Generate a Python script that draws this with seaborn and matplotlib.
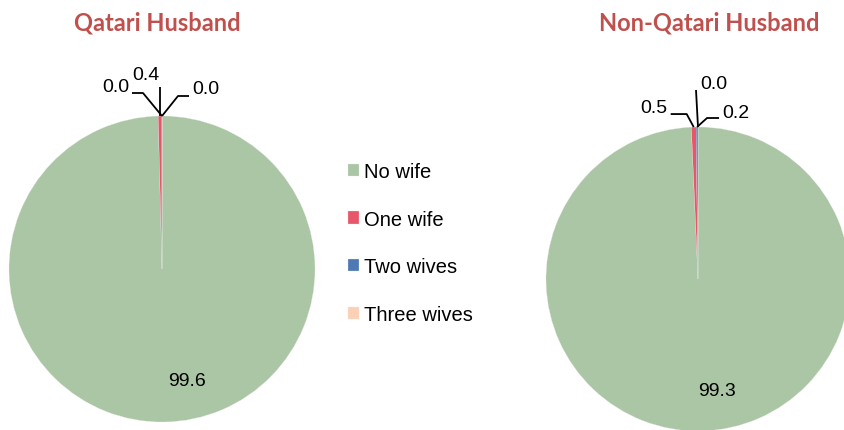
import numpy as np
import matplotlib
matplotlib.use('Agg')
import matplotlib.pyplot as plt
import seaborn as sns

# Data
categories = ['No wife', 'One wife', 'Two wives', 'Three wives']
qatari_values = [99.6, 0.4, 0.0, 0.0]
non_qatari_values = [99.3, 0.5, 0.2, 0.0]
titles = ['Qatari Husband', 'Non-Qatari Husband']

colors = ['#ABC6A5', '#E8566A', '#4E79B4', '#FCD0B4']
title_color = '#C0504D'

sns.set_style('white')
plt.rcParams['font.family'] = ['Liberation Sans', 'DejaVu Sans']
plt.rcParams['text.color'] = 'black'

W, H = 845, 431
fig = plt.figure(figsize = (W / 100, H / 100), dpi = 100)


def px_axes(cx, cy, r):
    # axes square around a pie centred at pixel (cx, cy) with radius r
    return fig.add_axes([(cx - r) / W, (H - cy - r) / H, 2 * r / W, 2 * r / H])


def draw_pie(ax, values, r_px, leaders, inner_offset):
    wedges, _ = ax.pie(values, colors = colors, startangle = 90, counterclock = False,
                       radius = 1, wedgeprops = dict(edgecolor = '#E8E8E8', linewidth = 0.2))
    ax.set_xlim(-1, 1)
    ax.set_ylim(-1, 1)
    ax.set_aspect('equal')
    ax.axis('off')

    # small slices: leader lines from the top of the pie
    for i, (elbow, end, txt, ha) in leaders.items():
        w = wedges[i]
        ang = np.deg2rad((w.theta1 + w.theta2) / 2)
        ax0, ay0 = np.cos(ang), np.sin(ang)
        pts_x = [ax0, ax0 + elbow[0] / r_px, ax0 + end[0] / r_px]
        pts_y = [ay0, ay0 + elbow[1] / r_px, ay0 + end[1] / r_px]
        ax.plot(pts_x, pts_y, color = 'black', lw = 1.3, clip_on = False, solid_capstyle = 'butt')
        ax.text(ax0 + txt[0] / r_px, ay0 + txt[1] / r_px, f'{values[i]:.1f}',
                ha = ha, va = 'center', fontsize = 14, clip_on = False)

    # big slice label
    ax.text(inner_offset[0] / r_px, inner_offset[1] / r_px, f'{values[0]:.1f}',
            ha = 'center', va = 'center', fontsize = 14)
    return wedges


# Left pie: Qatari husband
ax1 = px_axes(162, 270, 153)
wedges = draw_pie(ax1, qatari_values, 153,
                  {2: ((-19, 23), (-30, 23), (-33, 29), 'right'),
                   1: ((0, 29), (0, 29), (-14, 42), 'center'),
                   3: ((16, 20), (27, 20), (30, 27), 'left')},
                  (25, -112))

# Right pie: Non-Qatari husband
ax2 = px_axes(698, 280, 152)
draw_pie(ax2, non_qatari_values, 152,
         {1: ((-7, 13), (-23, 13), (-26, 20), 'right'),
          3: ((-2, 37), (-2, 37), (2, 44), 'left'),
          2: ((10, 9), (22, 9), (25, 15), 'left')},
         (19, -112))

# Titles
fig.text(157 / W, 1 - 23 / H, titles[0], ha = 'center', va = 'center',
         fontsize = 17, fontweight = 'bold', color = title_color, family = 'Lato')
fig.text(709 / W, 1 - 23 / H, titles[1], ha = 'center', va = 'center',
         fontsize = 17, fontweight = 'bold', color = title_color, family = 'Lato')

# Legend
fig.legend(wedges, categories, loc = 'upper left', bbox_to_anchor = (338 / W, 1 - 153 / H),
           frameon = False, fontsize = 14.5, handlelength = 0.55, handleheight = 0.55,
           handletextpad = 0.25, labelspacing = 1.42, borderpad = 0)

fig.savefig('out.png', dpi = 100)
